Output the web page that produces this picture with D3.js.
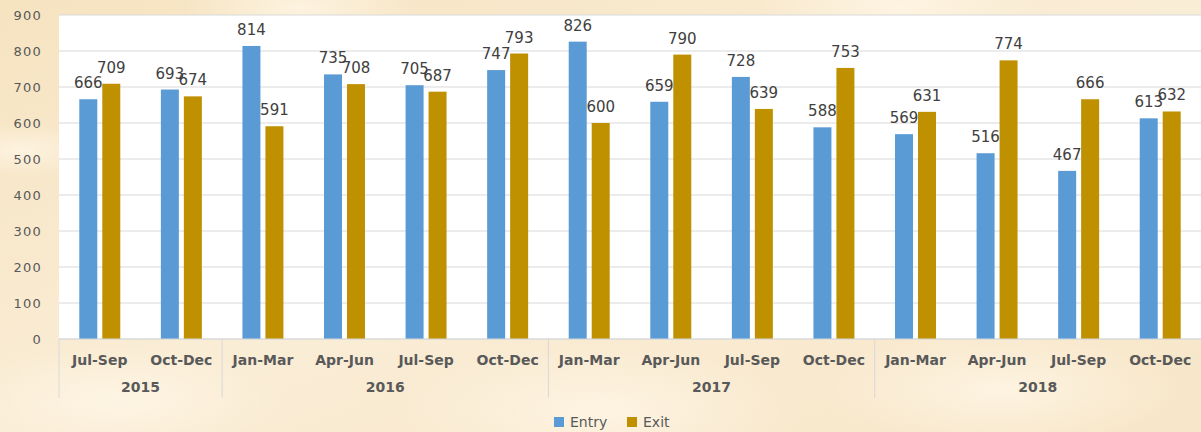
<!DOCTYPE html>
<html>
<head>
<meta charset="utf-8">
<script src="https://cdn.jsdelivr.net/npm/d3@7"></script>
<style>
  html, body { margin: 0; padding: 0; background: #f8ead0; }
  svg { display: block; }
</style>
</head>
<body>
<svg id="chart"></svg>
<script>
/* data */
const quarters = ['Jul-Sep', 'Oct-Dec',
  'Jan-Mar', 'Apr-Jun', 'Jul-Sep', 'Oct-Dec',
  'Jan-Mar', 'Apr-Jun', 'Jul-Sep', 'Oct-Dec',
  'Jan-Mar', 'Apr-Jun', 'Jul-Sep', 'Oct-Dec'];
const years = ['2015', '2016', '2017', '2018'];
const yearCounts = [2, 4, 4, 4];
const entry = [666, 693, 814, 735, 705, 747, 826, 659, 728, 588, 569, 516, 467, 613];
const exit = [709, 674, 591, 708, 687, 793, 600, 790, 639, 753, 631, 774, 666, 632];
const seriesNames = ['Entry', 'Exit'];
const yTicks = [0, 100, 200, 300, 400, 500, 600, 700, 800, 900];

const COLORS = { Entry: '#5b9bd5', Exit: '#bf9000' };

const W = 1201, H = 432;
const plotL = 59, plotR = 1201, plotT = 15, plotB = 339;

const svg = d3.select('#chart').attr('width', W).attr('height', H);

/* parchment background */
const defs = svg.append('defs');
const bg = defs.append('linearGradient').attr('id', 'bg')
  .attr('x1', 0).attr('y1', 0).attr('x2', 1).attr('y2', 1);
bg.append('stop').attr('offset', '0%').attr('stop-color', '#f6e3c0');
bg.append('stop').attr('offset', '50%').attr('stop-color', '#faedd6');
bg.append('stop').attr('offset', '100%').attr('stop-color', '#f7e6c8');
const spot = defs.append('radialGradient').attr('id', 'spot');
spot.append('stop').attr('offset', '0%').attr('stop-color', '#fff6e6').attr('stop-opacity', 0.8);
spot.append('stop').attr('offset', '100%').attr('stop-color', '#fff6e6').attr('stop-opacity', 0);

svg.append('rect').attr('width', W).attr('height', H).attr('fill', 'url(#bg)');
[[120, 400, 160], [600, 410, 200], [1000, 390, 180], [20, 150, 80], [300, 8, 120], [900, 6, 140]]
  .forEach(s => {
    svg.append('ellipse').attr('cx', s[0]).attr('cy', s[1])
      .attr('rx', s[2]).attr('ry', s[2] / 3).attr('fill', 'url(#spot)');
  });

/* scales */
const x0 = d3.scaleBand().domain(d3.range(quarters.length)).range([plotL, plotR]);
const x1 = d3.scaleBand().domain(seriesNames).range([0, x0.bandwidth()])
  .paddingInner(0.217).paddingOuter(0.883);
const y = d3.scaleLinear().domain([0, 900]).range([plotB, plotT]);

/* plot area */
svg.append('rect').attr('x', plotL).attr('y', plotT)
  .attr('width', plotR - plotL).attr('height', plotB - plotT).attr('fill', '#ffffff');

svg.append('g').selectAll('line').data(yTicks).enter().append('line')
  .attr('x1', plotL).attr('x2', plotR)
  .attr('y1', d => y(d)).attr('y2', d => y(d))
  .attr('stroke', '#d9d9d9').attr('stroke-width', 1);

const yAxis = svg.append('g')
  .attr('transform', 'translate(' + (plotL - 17) + ',0)')
  .call(d3.axisLeft(y).tickValues(yTicks).tickSize(0).tickPadding(0));
yAxis.select('.domain').remove();
yAxis.selectAll('text')
  .attr('font-family', 'DejaVu Sans').attr('font-size', 13)
  .attr('letter-spacing', 1.2).attr('fill', '#595959').attr('dy', '0.35em');

/* bars */
const rows = quarters.map((q, i) => ({ i, Entry: entry[i], Exit: exit[i] }));
const groups = svg.append('g').selectAll('g').data(rows).enter().append('g')
  .attr('transform', d => 'translate(' + x0(d.i) + ',0)');

groups.selectAll('rect')
  .data(d => seriesNames.map(k => ({ key: k, value: d[k] })))
  .enter().append('rect')
  .attr('x', d => x1(d.key))
  .attr('y', d => y(d.value))
  .attr('width', x1.bandwidth())
  .attr('height', d => plotB - y(d.value))
  .attr('fill', d => COLORS[d.key]);

groups.selectAll('text')
  .data(d => seriesNames.map(k => ({ key: k, value: d[k] })))
  .enter().append('text')
  .attr('x', d => x1(d.key) + x1.bandwidth() / 2)
  .attr('y', d => y(d.value) - 11)
  .attr('text-anchor', 'middle')
  .attr('font-family', 'DejaVu Sans').attr('font-size', 15)
  .attr('fill', '#404040')
  .text(d => d.value);

/* category axis */
svg.append('line').attr('x1', plotL).attr('x2', plotR)
  .attr('y1', plotB).attr('y2', plotB)
  .attr('stroke', '#d9d9d9');

svg.append('g').selectAll('text').data(quarters).enter().append('text')
  .attr('x', (d, i) => x0(i) + x0.bandwidth() / 2)
  .attr('y', 365)
  .attr('text-anchor', 'middle')
  .attr('font-family', 'DejaVu Sans').attr('font-weight', 'bold')
  .attr('font-size', 14).attr('fill', '#595959')
  .text(d => d);

let start = 0;
const yearSpans = years.map((yr, j) => {
  const s = { year: yr, a: x0(start), b: x0(start) + x0.bandwidth() * yearCounts[j] };
  start += yearCounts[j];
  return s;
});

svg.append('g').selectAll('line').data(yearSpans).enter().append('line')
  .attr('x1', d => d.a).attr('x2', d => d.a)
  .attr('y1', plotB).attr('y2', 398)
  .attr('stroke', '#d9d9d9');

svg.append('g').selectAll('text').data(yearSpans).enter().append('text')
  .attr('x', d => (d.a + d.b) / 2)
  .attr('y', 392)
  .attr('text-anchor', 'middle')
  .attr('font-family', 'DejaVu Sans').attr('font-weight', 'bold')
  .attr('font-size', 14).attr('fill', '#595959')
  .text(d => d.year);

/* legend */
const legend = svg.append('g');
const legendX = [554, 627];
seriesNames.forEach((k, i) => {
  legend.append('rect').attr('x', legendX[i]).attr('y', 417)
    .attr('width', 10).attr('height', 10).attr('fill', COLORS[k]);
  legend.append('text').attr('x', legendX[i] + 16).attr('y', 427)
    .attr('font-family', 'DejaVu Sans').attr('font-size', 14)
    .attr('fill', '#595959').text(k);
});
</script>
</body>
</html>
